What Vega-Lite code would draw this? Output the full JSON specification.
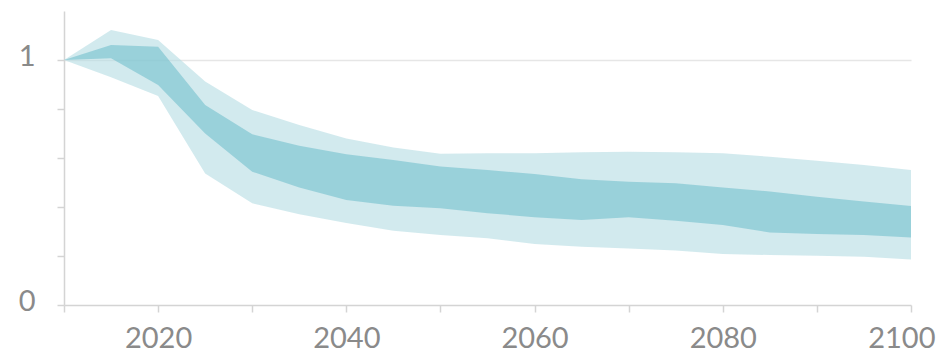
{
  "$schema": "https://vega.github.io/schema/vega-lite/v6.json",
  "width": 847,
  "height": 294,
  "autosize": {"type": "none"},
  "padding": {"left": 64, "top": 11, "right": 31, "bottom": 50},
  "background": "#ffffff",
  "config": {
    "view": {"stroke": null},
    "font": "Lato",
    "axis": {
      "labelFont": "Lato",
      "labelFontSize": 29,
      "labelColor": "#8a8a8a",
      "domainColor": "#d4d4d4",
      "domainWidth": 1.5,
      "tickColor": "#d4d4d4",
      "tickWidth": 1.5,
      "tickSize": 7,
      "title": null
    }
  },
  "data": {
    "values": [
      {"year": 2010, "outer_lo": 1.0, "inner_lo": 1.0, "inner_hi": 1.0, "outer_hi": 1.0},
      {"year": 2015, "outer_lo": 0.93, "inner_lo": 1.007, "inner_hi": 1.061, "outer_hi": 1.122},
      {"year": 2020, "outer_lo": 0.853, "inner_lo": 0.898, "inner_hi": 1.054, "outer_hi": 1.082},
      {"year": 2025, "outer_lo": 0.537, "inner_lo": 0.7, "inner_hi": 0.816, "outer_hi": 0.912},
      {"year": 2030, "outer_lo": 0.415, "inner_lo": 0.544, "inner_hi": 0.697, "outer_hi": 0.796},
      {"year": 2035, "outer_lo": 0.37, "inner_lo": 0.48, "inner_hi": 0.65, "outer_hi": 0.735},
      {"year": 2040, "outer_lo": 0.335, "inner_lo": 0.429, "inner_hi": 0.615, "outer_hi": 0.68},
      {"year": 2045, "outer_lo": 0.303, "inner_lo": 0.405, "inner_hi": 0.592, "outer_hi": 0.643},
      {"year": 2050, "outer_lo": 0.286, "inner_lo": 0.395, "inner_hi": 0.565, "outer_hi": 0.617},
      {"year": 2055, "outer_lo": 0.272, "inner_lo": 0.375, "inner_hi": 0.551, "outer_hi": 0.619},
      {"year": 2060, "outer_lo": 0.249, "inner_lo": 0.358, "inner_hi": 0.535, "outer_hi": 0.619},
      {"year": 2065, "outer_lo": 0.238, "inner_lo": 0.347, "inner_hi": 0.513, "outer_hi": 0.623},
      {"year": 2070, "outer_lo": 0.231, "inner_lo": 0.358, "inner_hi": 0.503, "outer_hi": 0.626},
      {"year": 2075, "outer_lo": 0.222, "inner_lo": 0.344, "inner_hi": 0.497, "outer_hi": 0.623},
      {"year": 2080, "outer_lo": 0.208, "inner_lo": 0.327, "inner_hi": 0.48, "outer_hi": 0.619},
      {"year": 2085, "outer_lo": 0.204, "inner_lo": 0.296, "inner_hi": 0.463, "outer_hi": 0.605},
      {"year": 2090, "outer_lo": 0.201, "inner_lo": 0.29, "inner_hi": 0.442, "outer_hi": 0.589},
      {"year": 2095, "outer_lo": 0.197, "inner_lo": 0.286, "inner_hi": 0.422, "outer_hi": 0.571},
      {"year": 2100, "outer_lo": 0.186, "inner_lo": 0.276, "inner_hi": 0.404, "outer_hi": 0.551}
    ]
  },
  "encoding": {
    "x": {
      "field": "year",
      "type": "quantitative",
      "scale": {"domain": [2010, 2100], "nice": false, "zero": false},
      "axis": {
        "values": [2010, 2020, 2030, 2040, 2050, 2060, 2070, 2080, 2090, 2100],
        "labelExpr": "datum.value % 20 == 0 ? datum.value : ''",
        "labelBaseline": "top",
        "labelPadding": 12,
        "labelFlush": true,
        "labelFlushOffset": 24,
        "labelOverlap": false,
        "grid": false
      }
    }
  },
  "layer": [
    {
      "mark": {"type": "area", "color": "#b4dce3", "opacity": 0.6},
      "encoding": {
        "y": {
          "field": "outer_lo",
          "type": "quantitative",
          "scale": {"domain": [0, 1.2], "nice": false},
          "axis": {
            "values": [0, 0.2, 0.4, 0.6, 0.8, 1],
            "labelExpr": "datum.value == 0 || datum.value == 1 ? datum.value : ''",
            "labelPadding": 22,
            "labelOffset": -4,
            "labelBaseline": "middle",
            "grid": true,
            "gridColor": "#e6e6e6",
            "gridWidth": 1.5,
            "gridOpacity": {"condition": {"test": "datum.value == 1", "value": 1}, "value": 0}
          }
        },
        "y2": {"field": "outer_hi"}
      }
    },
    {
      "mark": {"type": "area", "color": "#73c0cd", "opacity": 0.6},
      "encoding": {
        "y": {"field": "inner_lo", "type": "quantitative"},
        "y2": {"field": "inner_hi"}
      }
    }
  ]
}
